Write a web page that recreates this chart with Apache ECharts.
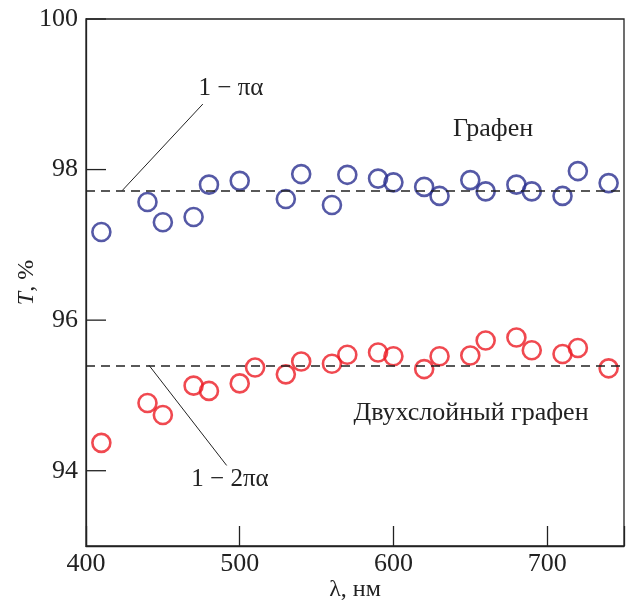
<!DOCTYPE html>
<html>
<head>
<meta charset="utf-8">
<script src="https://cdn.jsdelivr.net/npm/echarts@6/dist/echarts.min.js"></script>
<style>
html,body{margin:0;padding:0;background:#fff}
#chart{width:627px;height:601px}
</style>
</head>
<body>
<div id="chart"></div>
<script>
// длина волны, нм / пропускание, %
var lambdaMono = [410,440,450,470,480,500,530,540,560,570,590,600,620,630,650,660,680,690,710,720,740];
var tMono = [97.17,97.57,97.30,97.37,97.80,97.85,97.61,97.94,97.53,97.93,97.88,97.83,97.77,97.65,97.86,97.71,97.80,97.71,97.65,97.98,97.82];
var lambdaBi = [410,440,450,470,480,500,510,530,540,560,570,590,600,620,630,650,660,680,690,710,720,740];
var tBi = [94.37,94.90,94.74,95.13,95.06,95.16,95.37,95.28,95.45,95.42,95.54,95.57,95.52,95.35,95.52,95.53,95.73,95.77,95.60,95.55,95.63,95.36];
var levelMono = 97.72; // 1 - pi*alpha
var levelBi = 95.40;   // 1 - 2*pi*alpha
var xTicks = [400,500,600,700];
var yTicks = [94,96,98,100];

var FONT = 'Liberation Serif';
var BLUE = '#2b3090';
var RED = '#ec1c24';

function pairs(xs, ys){
	var d=[];
	for(var i=0;i<xs.length;i++){
		d.push([xs[i], ys[i]]);
	}
	return d;
}

function txt(id, x, y, s, size){
	return {type:'text', id:id, x:x, y:y, z:10,
		style:{text:s, fontFamily:FONT, fontSize:size, fill:'#222', align:'center', verticalAlign:'middle'}};
}

var chart = echarts.init(document.getElementById('chart'));
var option = {
	animation:false,
	grid:{
		left:86, right:3, top:19, bottom:55,
		outerBoundsMode:'none', containLabel:false,
		show:true, borderColor:'#222', borderWidth:1.3
	},
	xAxis:{
		type:'value', min:400, max:750, interval:100,
		name:'λ, нм', nameLocation:'middle', nameGap:32, nameMoveOverlap:false,
		nameTextStyle:{fontFamily:FONT, fontSize:24, color:'#222'},
		axisLine:{lineStyle:{color:'#222', width:1.3}},
		axisTick:{inside:true, length:20, lineStyle:{color:'#222', width:1.3}},
		axisLabel:{fontFamily:FONT, fontSize:26, color:'#222', margin:5,
			formatter:function(v){ return xTicks.indexOf(v)>=0 ? v : ''; }},
		splitLine:{show:false}
	},
	yAxis:{
		type:'value', min:93, max:100, interval:1,
		name:'{i|T}, %', nameLocation:'middle', nameGap:47, nameRotate:90, nameMoveOverlap:false,
		nameTextStyle:{fontFamily:FONT, fontSize:24, color:'#222',
			rich:{i:{fontFamily:FONT, fontSize:24, fontStyle:'italic', color:'#222'}}},
		axisLine:{lineStyle:{color:'#222', width:1.3}},
		axisTick:{show:false},
		axisLabel:{fontFamily:FONT, fontSize:26, color:'#222', margin:8,
			formatter:function(v){ return yTicks.indexOf(v)>=0 ? v : ''; }},
		splitLine:{show:false}
	},
	series:[
		{
			name:'Графен', type:'scatter',
			data:pairs(lambdaMono, tMono),
			symbol:'circle', symbolSize:18,
			itemStyle:{color:'rgba(0,0,0,0)', borderColor:BLUE, borderWidth:2.6},
			markLine:{
				silent:true, symbol:'none', label:{show:false},
				data:[
					[{coord:[400, levelMono], lineStyle:{type:[9,6], color:'#222', width:1.6}}, {coord:[750, levelMono]}],
					[{coord:[476, 98.87], lineStyle:{type:'solid', color:'#222', width:1}}, {coord:[423.5, levelMono]}]
				]
			}
		},
		{
			name:'Двухслойный графен', type:'scatter',
			data:pairs(lambdaBi, tBi),
			symbol:'circle', symbolSize:18,
			itemStyle:{color:'rgba(0,0,0,0)', borderColor:RED, borderWidth:2.6},
			markLine:{
				silent:true, symbol:'none', label:{show:false},
				data:[
					[{coord:[400, levelBi], lineStyle:{type:[9,6], color:'#222', width:1.6}}, {coord:[750, levelBi]}],
					[{coord:[441, levelBi], lineStyle:{type:'solid', color:'#222', width:1}}, {coord:[491.5, 94.07]}]
				]
			}
		}
	]
};
chart.setOption(option);

// подписи и внутренние тики оси Y только у подписанных значений
var gr = [
	txt('tMono', 231, 88, '1 − πα', 25),
	txt('tBi', 230, 479, '1 − 2πα', 25),
	txt('lMono', 493, 129, 'Графен', 26),
	txt('lBi', 471, 413, 'Двухслойный графен', 26)
];
for(var i=0;i<yTicks.length;i++){
	var p = chart.convertToPixel({gridIndex:0}, [400, yTicks[i]]);
	gr.push({type:'line', id:'yt'+i, shape:{x1:p[0], y1:p[1], x2:p[0]+20, y2:p[1]}, style:{stroke:'#222', lineWidth:1.3}});
}
chart.setOption({graphic:gr});
</script>
</body>
</html>
